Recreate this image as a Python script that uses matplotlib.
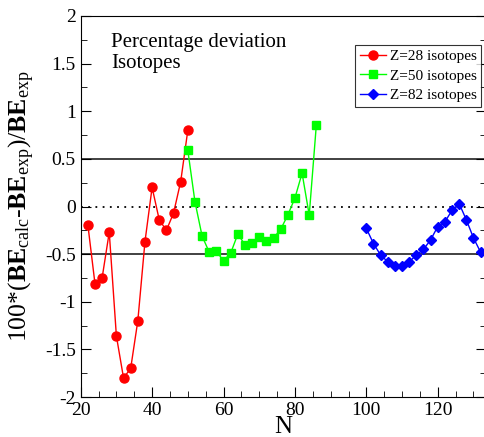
import matplotlib.pyplot as plt
from matplotlib.ticker import MultipleLocator

plt.rcParams["font.family"] = ["Liberation Serif", "DejaVu Serif"]
plt.rcParams["mathtext.fontset"] = "custom"
plt.rcParams["mathtext.rm"] = "Liberation Serif"
plt.rcParams["mathtext.it"] = "Liberation Serif:italic"
plt.rcParams["mathtext.bf"] = "Liberation Serif:bold"

# Z=28 isotopes
n_z28 = [22, 24, 26, 28, 30, 32, 34, 36, 38, 40, 42, 44, 46, 48, 50]
dev_z28 = [-0.19, -0.81, -0.75, -0.27, -1.36, -1.80, -1.70, -1.20, -0.37,
           0.20, -0.14, -0.25, -0.07, 0.26, 0.80]

# Z=50 isotopes
n_z50 = [50, 52, 54, 56, 58, 60, 62, 64, 66, 68, 70, 72, 74, 76, 78, 80,
         82, 84, 86]
dev_z50 = [0.59, 0.05, -0.31, -0.48, -0.47, -0.57, -0.49, -0.29, -0.40,
           -0.38, -0.32, -0.36, -0.33, -0.24, -0.09, 0.09, 0.35, -0.09, 0.86]

# Z=82 isotopes
n_z82 = [100, 102, 104, 106, 108, 110, 112, 114, 116, 118, 120, 122, 124,
         126, 128, 130, 132]
dev_z82 = [-0.23, -0.39, -0.51, -0.58, -0.62, -0.62, -0.58, -0.51, -0.45,
           -0.35, -0.21, -0.16, -0.04, 0.03, -0.14, -0.33, -0.48]

fig = plt.figure(figsize=(4.84, 4.37), dpi=100)
ax = fig.add_axes([0.1667, 0.0915, 0.8374, 0.8719])

ax.axhline(0.5, color="#333333", lw=1.3, zorder=1)
ax.axhline(-0.5, color="#333333", lw=1.3, zorder=1)
ax.axhline(0.0, color="black", lw=1.3, ls=(0, (1, 3)), zorder=1)

ax.plot(n_z28, dev_z28, "-o", color="red", lw=1, ms=6.5, label="Z=28 isotopes")
ax.plot(n_z50, dev_z50, "-s", color="#00ff00", lw=1, ms=6, label="Z=50 isotopes")
ax.plot(n_z82, dev_z82, "-D", color="blue", lw=1, ms=5, label="Z=82 isotopes")

ax.set_xlim(20, 133.5)
ax.set_ylim(-2, 2)
ax.xaxis.set_major_locator(MultipleLocator(20))
ax.xaxis.set_minor_locator(MultipleLocator(5))
ax.yaxis.set_major_locator(MultipleLocator(0.5))
ax.yaxis.set_minor_locator(MultipleLocator(0.25))
ax.tick_params(which="both", direction="in", right=True, top=False,
               labelsize=14)
ax.tick_params(which="major", length=7)
ax.tick_params(which="minor", length=4)
ax.set_yticklabels([f"{v:g}" for v in ax.get_yticks()])
ax.set_xticklabels([f"{v:g}" for v in ax.get_xticks()])

ax.set_xlabel("N", fontsize=18, labelpad=-2)
ax.set_ylabel(r"100*($\mathbf{BE}_{\mathrm{calc}}$-$\mathbf{BE}_{\mathrm{exp}}$)"
              r"/$\mathbf{BE}_{\mathrm{exp}}$",
              fontsize=18.5, labelpad=6)

ax.text(28.6, 1.82, "Percentage deviation\nIsotopes", fontsize=15,
        va="top", ha="left", linespacing=1.1)

leg = ax.legend(loc="upper right", bbox_to_anchor=(0.988, 0.925),
                fontsize=11, frameon=True, fancybox=False, handlelength=1.7,
                handletextpad=0.25, borderpad=0.3, labelspacing=0.4,
                borderaxespad=0)
leg.get_frame().set_edgecolor("black")
leg.get_frame().set_linewidth(0.8)

plt.savefig("out.png", dpi=100)
